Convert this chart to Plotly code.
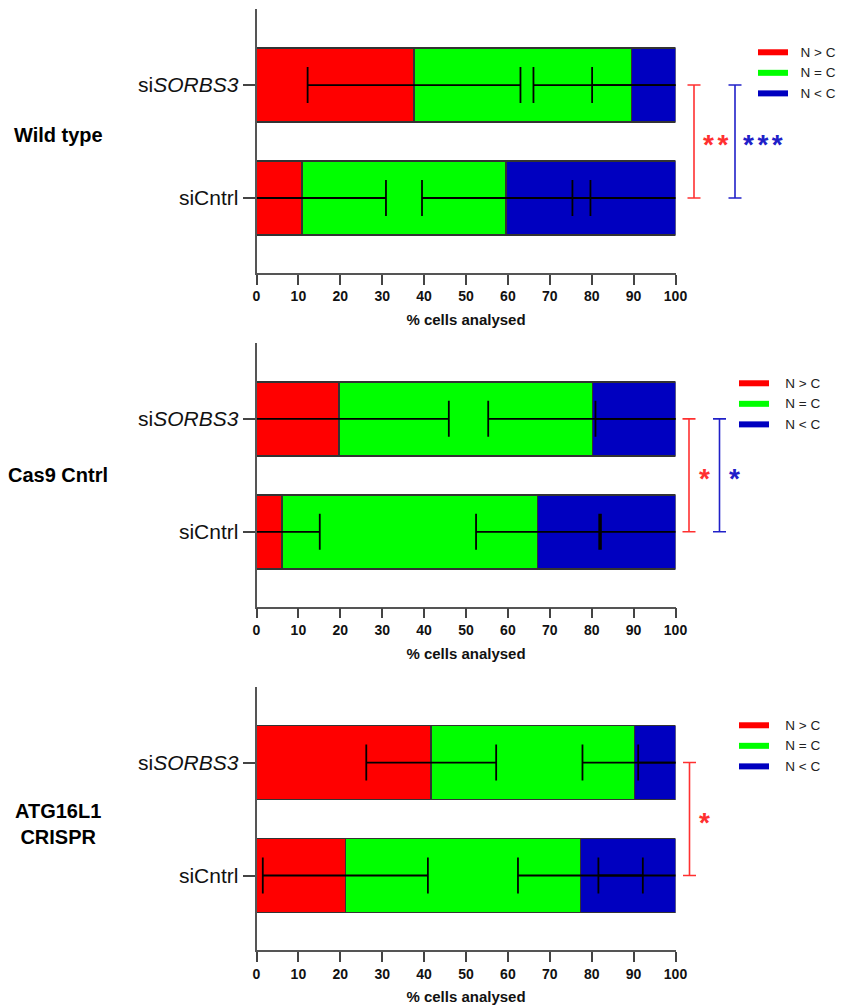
import numpy as np
import plotly.graph_objects as go

# ---------------- data ----------------
categories = ["siCntrl", "si<i>SORBS3</i>"]
panel_labels = ["Wild type", "Cas9 Cntrl", "ATG16L1<br>CRISPR"]
series_names = ["N &gt; C", "N = C", "N &lt; C"]
x_ticks = [0, 10, 20, 30, 40, 50, 60, 70, 80, 90, 100]

# mean % of cells, per panel, order = categories
wt_gt = [10.8, 37.6]
wt_eq = [48.8, 51.9]
wt_lt = [40.4, 10.5]
cas9_gt = [6.1, 19.7]
cas9_eq = [61.0, 60.5]
cas9_lt = [32.9, 19.8]
atg_gt = [21.2, 41.7]
atg_eq = [56.1, 48.5]
atg_lt = [22.7, 9.8]

# error (SD) values
wt_gt_err = [20.1, 25.4]
wt_eq_err = [20.1, 23.4]
wt_lt_err = [24.6, 19.9]
cas9_gt_err = [9.0, 26.2]
cas9_eq_err = [14.7, 24.9]
cas9_lt_err = [17.8, 19.1]
atg_gt_err = [19.7, 15.5]
atg_eq_err = [14.9, 12.4]
atg_lt_err = [18.4, 8.9]

# significance marks: (colour, stars)
wt_sig = [("red", "**"), ("blue", "***")]
cas9_sig = [("red", "*"), ("blue", "*")]
atg_sig = [("red", "*")]

# ---------------- style ----------------
W, H = 843, 1007
bar_colors = ["#ff0000", "#00ff00", "#0000c0"]
sig_colors = {"red": "#ff3030", "blue": "#2020c8"}
FONT = "Liberation Sans, Arial, sans-serif"

panels = [
    dict(means=[wt_gt, wt_eq, wt_lt], errs=[wt_gt_err, wt_eq_err, wt_lt_err], sig=wt_sig,
         top=9.0, bottom=272.7, label_y=0.56, pad="\u00a0\u00a0",
         legend_x=753, legend_y=36, brackets=[694, 735], stars=[701, 741]),
    dict(means=[cas9_gt, cas9_eq, cas9_lt], errs=[cas9_gt_err, cas9_eq_err, cas9_lt_err], sig=cas9_sig,
         top=342.8, bottom=606.5, label_y=0.5, pad="\u00a0\u00a0\u00a0",
         legend_x=734, legend_y=367, brackets=[689, 719.5], stars=[697, 727]),
    dict(means=[atg_gt, atg_eq, atg_lt], errs=[atg_gt_err, atg_eq_err, atg_lt_err], sig=atg_sig,
         top=686.5, bottom=950.2, label_y=0.46, pad="\u00a0\u00a0\u00a0",
         legend_x=734, legend_y=709, brackets=[689.5], stars=[697]),
]

fig = go.Figure()
layout_updates = {}
shapes = []
annotations = []
x_dom = [256.5 / W, 675.5 / W]

for p_i, p in enumerate(panels):
    suf = "" if p_i == 0 else str(p_i + 1)
    xa, ya = "x" + suf, "y" + suf
    leg = "legend" + suf

    # stacked bars
    for s_i in range(3):
        fig.add_trace(go.Bar(
            y=categories, x=p["means"][s_i], orientation="h",
            marker=dict(color=bar_colors[s_i], line=dict(color="#333333", width=1.5)),
            xaxis=xa, yaxis=ya, showlegend=False, name=series_names[s_i],
        ))
    # error bars on top of all bars, placed at the end of each stacked segment
    cum = np.cumsum(np.array(p["means"]), axis=0)
    for s_i in range(3):
        fig.add_trace(go.Scatter(
            y=categories, x=cum[s_i], mode="markers",
            marker=dict(size=1, opacity=0),
            error_x=dict(type="data", array=p["errs"][s_i], color="black",
                         thickness=1.8, width=18),
            xaxis=xa, yaxis=ya, showlegend=False, hoverinfo="skip",
        ))
    # legend entries
    for s_i in range(3):
        fig.add_trace(go.Scatter(
            x=[None], y=[None], mode="lines", fill="toself",
            fillcolor=bar_colors[s_i], line=dict(width=0, color=bar_colors[s_i]),
            name=p["pad"] + series_names[s_i], legend=leg,
            xaxis=xa, yaxis=ya, showlegend=True,
        ))

    y_dom = [1 - p["bottom"] / H, 1 - p["top"] / H]
    layout_updates["xaxis" + suf] = dict(
        domain=x_dom, anchor=ya, range=[0, 100], tickvals=x_ticks, ticktext=[str(v) for v in x_ticks],
        showline=True, linecolor="#555555", linewidth=1.7, ticks="outside", ticklen=10,
        tickwidth=1.6, tickcolor="#444444", showgrid=False, zeroline=False,
        tickfont=dict(family=FONT, size=14, color="#111111", weight="bold"),
        title=dict(text="% cells analysed", standoff=11,
                   font=dict(family=FONT, size=15, color="#111111", weight="bold")),
    )
    layout_updates["yaxis" + suf] = dict(
        domain=y_dom, anchor=xa, type="category", categoryorder="array", categoryarray=categories,
        range=[-0.661, 1.673], autorange=False,
        showline=True, linecolor="#555555", linewidth=1.7, ticks="outside", ticklen=12,
        tickwidth=1.6, tickcolor="#444444", showgrid=False, zeroline=False,
        tickfont=dict(family=FONT, size=21, color="#111111"),
    )
    layout_updates[leg] = dict(
        x=p["legend_x"] / W, y=1 - p["legend_y"] / H, xanchor="left", yanchor="top",
        bgcolor="rgba(0,0,0,0)", borderwidth=0, traceorder="normal",
        font=dict(family=FONT, size=13.5, color="#222222"),
    )

    # panel label
    annotations.append(dict(
        text=panel_labels[p_i], xref="paper", yref=ya, x=58 / W, y=p["label_y"],
        showarrow=False, xanchor="center", yanchor="middle",
        font=dict(family=FONT, size=20, color="black", weight="bold"),
    ))
    # significance brackets + stars
    for k, (col, stars) in enumerate(p["sig"]):
        bx = p["brackets"][k] / W
        c = sig_colors[col]
        shapes.append(dict(type="line", xref="paper", yref=ya, x0=bx, x1=bx, y0=0, y1=1,
                           line=dict(color=c, width=1.6)))
        for yy in (0, 1):
            shapes.append(dict(type="line", xref="paper", yref=ya, x0=bx - 6.5 / W, x1=bx + 6.5 / W,
                               y0=yy, y1=yy, line=dict(color=c, width=1.6)))
        annotations.append(dict(
            text='<span style="letter-spacing:3.5px">' + stars + "</span>",
            xref="paper", yref=ya, x=p["stars"][k] / W, y=0.5,
            showarrow=False, xanchor="left", yanchor="middle", yshift=-3,
            font=dict(family=FONT, size=28, color=c, weight="bold"),
        ))

fig.update_layout(
    width=W, height=H, margin=dict(l=0, r=0, t=0, b=0, autoexpand=False),
    paper_bgcolor="white", plot_bgcolor="white",
    barmode="stack", bargap=0.345,
    shapes=shapes, annotations=annotations,
    **layout_updates,
)

fig.write_html("out.html")
